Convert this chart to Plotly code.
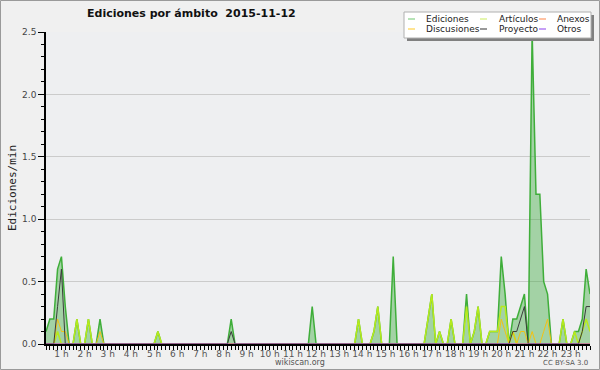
import plotly.graph_objects as go

# ---- data (10-minute buckets, edits per minute) ----
times = [f"{h}:{m:02d}" for h in range(24) for m in range(0, 60, 10)][2:]  # 0:20 .. 23:50

ediciones = {"0:20": 0.1, "0:30": 0.2, "0:40": 0.2, "0:50": 0.6, "1:00": 0.7, "1:10": 0.3,
             "1:40": 0.2, "2:10": 0.2, "2:40": 0.2, "5:10": 0.1, "8:20": 0.2, "11:50": 0.3,
             "13:50": 0.2, "14:30": 0.1, "14:40": 0.3, "15:20": 0.7, "16:50": 0.2, "17:00": 0.4,
             "17:20": 0.1, "17:50": 0.2, "18:30": 0.4, "18:50": 0.1, "19:00": 0.3, "19:30": 0.1,
             "19:40": 0.1, "19:50": 0.1, "20:00": 0.7, "20:10": 0.4, "20:30": 0.2, "20:40": 0.2,
             "20:50": 0.3, "21:00": 0.4, "21:20": 2.5, "21:30": 1.2, "21:40": 1.2, "21:50": 0.5,
             "22:00": 0.4, "22:40": 0.2, "23:10": 0.1, "23:20": 0.1, "23:30": 0.2, "23:40": 0.6,
             "23:50": 0.4}
articulos = {"0:50": 0.1, "1:40": 0.2, "2:10": 0.2, "5:10": 0.1, "13:50": 0.2, "14:30": 0.1,
             "14:40": 0.3, "16:50": 0.2, "17:00": 0.4, "17:20": 0.1, "17:50": 0.2, "18:30": 0.3,
             "18:50": 0.1, "19:00": 0.3, "19:30": 0.1, "19:40": 0.1, "19:50": 0.1, "20:00": 0.3,
             "20:10": 0.3, "20:30": 0.1, "22:40": 0.2, "23:10": 0.1, "23:30": 0.1, "23:40": 0.2,
             "23:50": 0.1}
anexos = {}
discusiones = {"0:50": 0.2, "1:00": 0.1, "1:10": 0.1, "2:40": 0.1, "20:00": 0.2, "20:10": 0.1,
               "20:30": 0.1, "20:50": 0.1, "21:00": 0.1, "21:20": 0.1, "21:50": 0.1, "22:00": 0.2}
proyecto = {"0:50": 0.3, "1:00": 0.6, "8:20": 0.1, "20:30": 0.1, "20:40": 0.1, "20:50": 0.2,
            "21:00": 0.3, "23:30": 0.1, "23:40": 0.3, "23:50": 0.3}
otros = {}

hour_ticks = list(range(1, 24))
hour_labels = [f"{h} h" for h in hour_ticks]

# ---- build ----
x = [int(t.split(":")[0]) + int(t.split(":")[1]) / 60 for t in times]


def expand(d):
    return [d.get(t, 0.0) for t in times]


series = [
    ("Ediciones", ediciones, "#3fae3a", 1.5),
    ("Artículos", articulos, "#b6ea1c", 1.5),
    ("Anexos", anexos, "#ff8a4c", 1),
    ("Discusiones", discusiones, "#f2c214", 1),
    ("Proyecto", proyecto, "#3c3c3c", 1),
    ("Otros", otros, "#9a4de8", 1),
]

fig = go.Figure()
for name, d, col, w in series:
    kw = {}
    if name == "Ediciones":
        kw = dict(fill="tozeroy", fillcolor="rgba(60,170,60,0.42)")
    fig.add_trace(go.Scatter(x=x, y=expand(d), mode="lines", name=name,
                             line=dict(color=col, width=w), showlegend=False, **kw))

PL, PR, PT, PB = 46, 590, 32, 344
W, H = 600, 370


def px(p):
    return (p - PL) / (PR - PL)


def py(p):
    return (PB - p) / (PB - PT)


fig.update_layout(
    width=W, height=H,
    margin=dict(l=PL, r=W - PR, t=PT, b=H - PB, autoexpand=False),
    paper_bgcolor="#f0f0f0", plot_bgcolor="#eeeff1",
    font=dict(family="DejaVu Sans", size=10, color="#333"),
    showlegend=False,
)
fig.update_xaxes(range=[x[0], x[-1]], tickmode="array", tickvals=hour_ticks, ticktext=hour_labels,
                 tickangle=0, automargin=False, ticklabelstandoff=-4,
                 ticks="outside", ticklen=4, tickcolor="#000", showgrid=False, zeroline=False,
                 showline=True, linecolor="#000", linewidth=1.5,
                 tickfont=dict(size=9, color="#555"),
                 minor=dict(tickmode="linear", tick0=0, dtick=1 / 6, ticks="outside",
                            ticklen=4, tickcolor="#000", showgrid=False))
fig.update_yaxes(range=[0, 2.5], dtick=0.5, tickformat=".1f", ticks="outside", ticklen=6,
                 automargin=False,
                 tickcolor="#000", showgrid=True, gridcolor="#cbcbcb", gridwidth=1,
                 zeroline=False, showline=True, linecolor="#000", linewidth=1.5,
                 tickfont=dict(size=9, color="#444"),
                 minor=dict(tickmode="linear", tick0=0, dtick=0.1, ticks="outside",
                            ticklen=3, tickcolor="#000", showgrid=False))

ann = []
ann.append(dict(text="<b>Ediciones por ámbito\u00a0\u00a02015-11-12</b>", x=px(85), y=py(14),
                xref="paper", yref="paper", xanchor="left", yanchor="middle", showarrow=False,
                font=dict(family="DejaVu Sans", size=11, color="#111")))
ann.append(dict(text="Ediciones/min", x=px(12), y=py(188), xref="paper", yref="paper",
                textangle=-90, showarrow=False, xanchor="center", yanchor="middle",
                font=dict(family="DejaVu Sans Mono", size=11, color="#222")))
ann.append(dict(text="wikiscan.org", x=px(300), y=py(362), xref="paper", yref="paper",
                showarrow=False, xanchor="center", yanchor="middle",
                font=dict(size=8, color="#555")))
ann.append(dict(text="CC BY-SA 3.0", x=px(590), y=py(363), xref="paper", yref="paper",
                showarrow=False, xanchor="right", yanchor="middle",
                font=dict(size=7, color="#555")))

shapes = []
# outer border
shapes.append(dict(type="rect", xref="paper", yref="paper", x0=px(0.5), x1=px(599.5),
                   y0=py(0.5), y1=py(369.5), line=dict(color="#9a9a9a", width=1), layer="below"))
# legend shadow and box
shapes.append(dict(type="rect", xref="paper", yref="paper", x0=px(407), x1=px(594),
                   y0=py(41), y1=py(15), line=dict(width=0), fillcolor="#808080"))
shapes.append(dict(type="rect", xref="paper", yref="paper", x0=px(404), x1=px(591),
                   y0=py(38), y1=py(12), line=dict(color="#b0b0b0", width=1), fillcolor="#ffffff"))

legend_pos = {"Ediciones": (408, 424, 19), "Artículos": (480, 497, 19), "Anexos": (539, 555, 19),
              "Discusiones": (408, 424, 29), "Proyecto": (480, 497, 29), "Otros": (539, 555, 29)}
legend_cols = {"Ediciones": "#88d088", "Artículos": "#d4f07a", "Anexos": "#ff9a66",
               "Discusiones": "#ffd24a", "Proyecto": "#555555", "Otros": "#a060f0"}
for name, (lx, tx, ly) in legend_pos.items():
    shapes.append(dict(type="line", xref="paper", yref="paper", x0=px(lx), x1=px(lx + 7),
                       y0=py(ly), y1=py(ly), line=dict(color=legend_cols[name], width=1.2)))
    ann.append(dict(text=name, x=px(tx), y=py(ly), xref="paper", yref="paper", showarrow=False,
                    xanchor="left", yanchor="middle",
                    font=dict(family="DejaVu Sans", size=9, color="#222")))

fig.update_layout(annotations=ann, shapes=shapes)
fig.write_html("out.html", config={"displayModeBar": False},
               post_script="document.body.style.margin='0';document.body.style.overflow='hidden';")
